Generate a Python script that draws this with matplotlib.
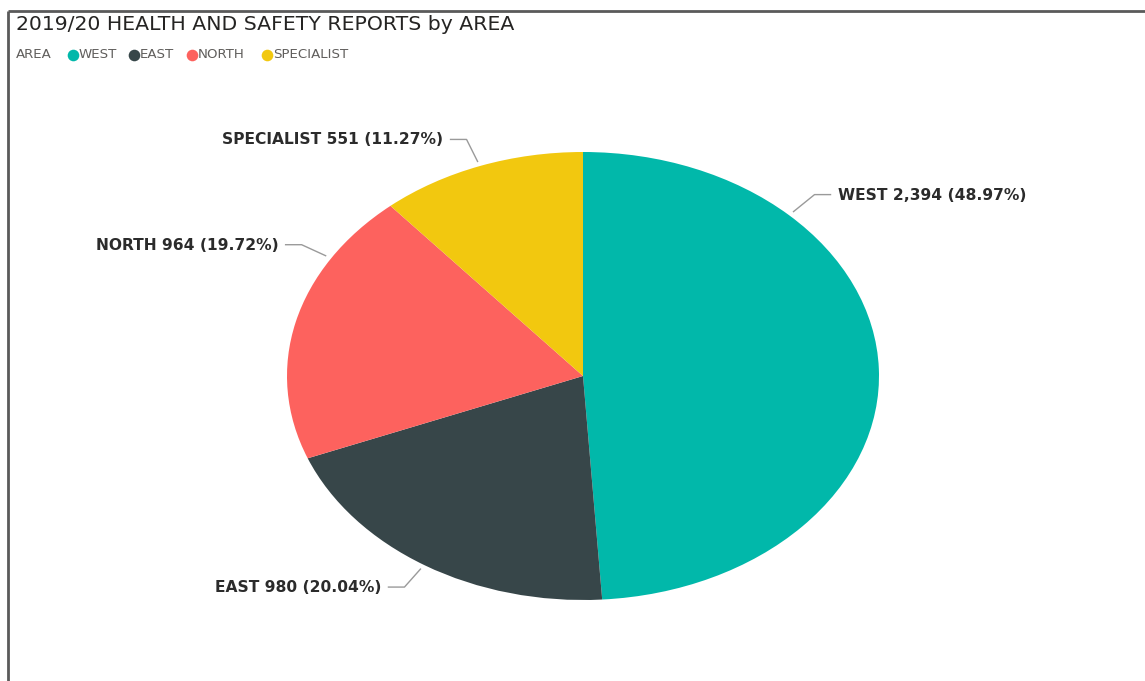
import numpy as np
import matplotlib
matplotlib.use("Agg")
import matplotlib.pyplot as plt

areas = ["WEST", "EAST", "NORTH", "SPECIALIST"]
counts = [2394, 980, 964, 551]
colors = ["#01B8AA", "#374649", "#FD625E", "#F2C80F"]

W, H = 1145, 681
fig = plt.figure(figsize=(W / 100, H / 100), dpi=100)
fig.patch.set_facecolor("white")

# overlay axes in pixel coordinates
ov = fig.add_axes([0, 0, 1, 1])
ov.set_xlim(0, W)
ov.set_ylim(H, 0)
ov.axis("off")

# pie (elliptical) geometry
cx, cy, rx, ry = 583, 376, 296, 224
pax = fig.add_axes([(cx - rx) / W, (H - cy - ry) / H, 2 * rx / W, 2 * ry / H])
pax.pie(counts, colors=colors, startangle=90, counterclock=False, radius=1,
        wedgeprops=dict(linewidth=0))
pax.set_aspect("auto")
pax.set_xlim(-1, 1)
pax.set_ylim(-1, 1)
pax.axis("off")

# border
ov.plot([8, W], [11, 11], color="#5a5a5a", lw=2, solid_capstyle="butt")
ov.plot([8, 8], [11, H], color="#5a5a5a", lw=2, solid_capstyle="butt")

# title and legend
fnt = "DejaVu Sans"
ov.text(16, 25, "2019/20 HEALTH AND SAFETY REPORTS by AREA", fontsize=14.7,
        family=fnt, color="#252423", va="center", ha="left")
ov.text(16, 55, "AREA", fontsize=9.6, family=fnt, color="#605E5C", va="center")
leg_x = [73, 134, 192, 267]
for x, name, c in zip(leg_x, areas, colors):
    ov.scatter([x], [55], s=70, color=c, zorder=3, linewidths=0)
    ov.text(x + 6, 55, name, fontsize=9.6, family=fnt, color="#605E5C", va="center")

# data labels with leader lines
total = sum(counts)
label_angles = [45.9, 237.5, 148.3, 110.4]   # degrees where leader meets pie
bend_dx = [21, -16, -24, -11]
bend_dy = [-17, 18, -11, -22]
for name, v, ang, bdx, bdy in zip(areas, counts, label_angles, bend_dx, bend_dy):
    a = np.deg2rad(ang)
    side = 1 if bdx > 0 else -1
    px, py = cx + 1.022 * rx * np.cos(a), cy - 1.022 * ry * np.sin(a)
    bx, by = px + bdx, py + bdy
    ex = bx + side * 16
    ov.plot([px, bx, ex], [py, by, by], color="#9a9a9a", lw=1)
    txt = f"{name} {v:,} ({v / total * 100:.2f}%)"
    ov.text(ex + side * 7, by + 0.5, txt, fontsize=11.2, family=fnt, weight="bold",
            color="#2b2b2b", va="center", ha="left" if side > 0 else "right")

fig.savefig("out.png", dpi=100, facecolor="white")
